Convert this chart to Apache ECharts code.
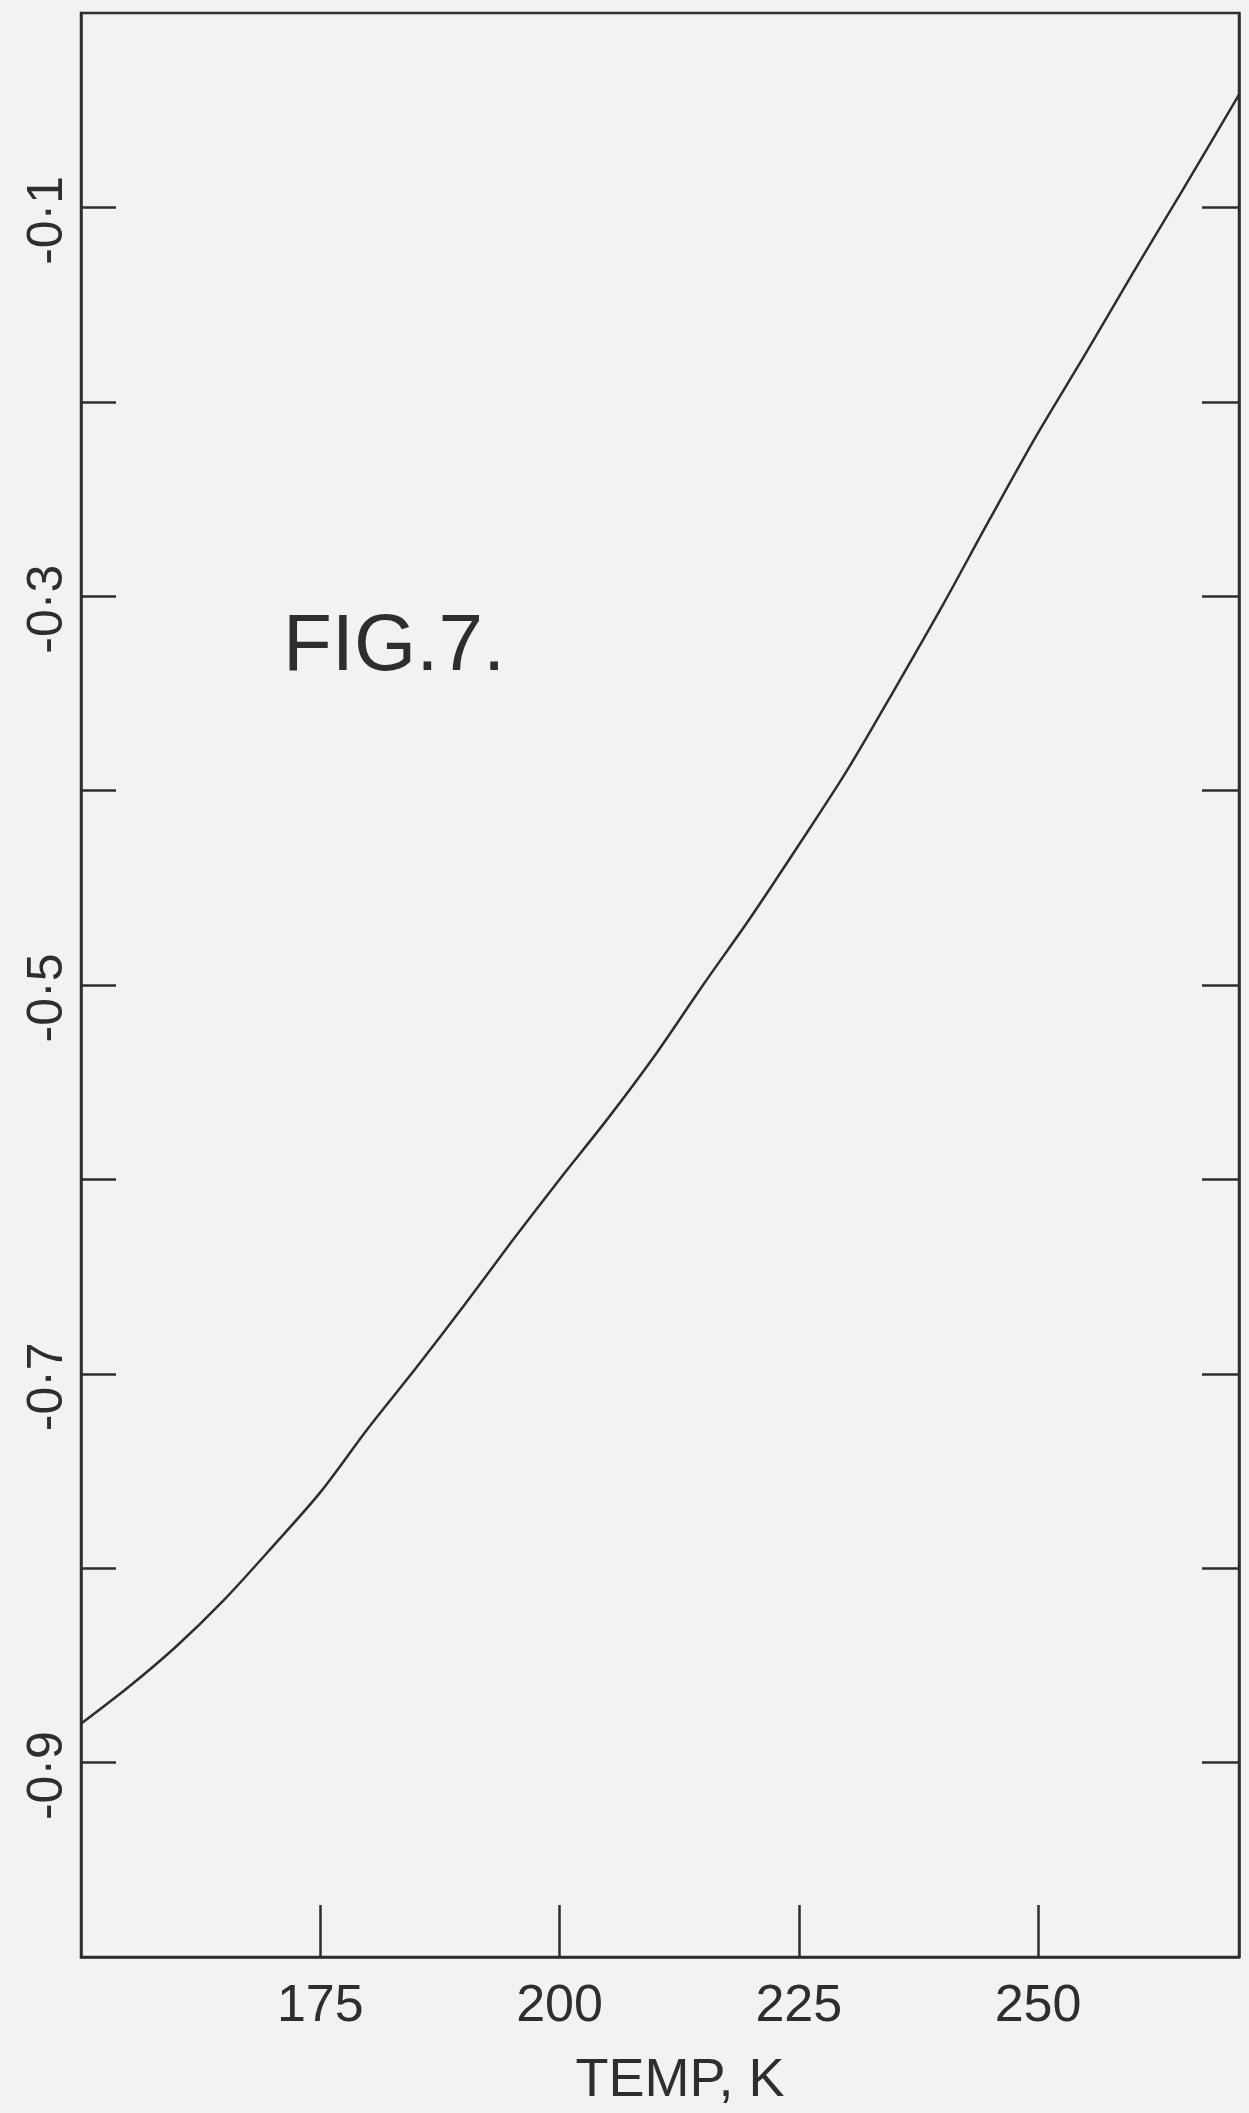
<!DOCTYPE html>
<html>
<head>
<meta charset="utf-8">
<script src="https://cdn.jsdelivr.net/npm/echarts@6/dist/echarts.min.js"></script>
<style>
html,body{margin:0;padding:0;background:#f2f2f2;}
#c{width:1249px;height:2113px;}
</style>
</head>
<body>
<div id="c"></div>
<script>
// Temperature (K) along the curve
const temps = [150, 155, 160, 165, 170, 175, 180, 185, 190, 195, 200, 205, 210, 215, 220, 225, 230, 235, 240, 245, 250, 255, 260, 265, 271];
// Curve values
const values = [-0.880, -0.861, -0.840, -0.816, -0.789, -0.761, -0.728, -0.697, -0.665, -0.632, -0.600, -0.569, -0.536, -0.500, -0.465, -0.428, -0.390, -0.348, -0.305, -0.260, -0.216, -0.175, -0.133, -0.092, -0.042];
// Axis ticks and labels
const xTicks = [175, 200, 225, 250];
const yTicks = [-0.9, -0.8, -0.7, -0.6, -0.5, -0.4, -0.3, -0.2, -0.1];
const yLabelValues = [-0.9, -0.7, -0.5, -0.3, -0.1];
const xName = 'TEMP, K';
const figLabel = 'FIG.7.';

const ink = '#2e2e2e';
const font = "'Liberation Sans', Arial, sans-serif";

const chart = echarts.init(document.getElementById('c'), null, {renderer: 'canvas'});
chart.setOption({
  backgroundColor: '#f2f2f2',
  animation: false,
  title: {
    text: figLabel, left: 278, top: 603,
    textStyle: {fontSize: 80, fontWeight: 'normal', fontFamily: font, color: ink}
  },
  grid: {
    left: 81, right: 10, top: 13, bottom: 147,
    show: true, borderColor: ink, borderWidth: 2.5, backgroundColor: 'transparent'
  },
  xAxis: {
    type: 'value', min: 150, max: 271,
    name: xName, nameLocation: 'middle', nameGap: 97,
    nameTextStyle: {fontSize: 54, fontFamily: font, color: ink, padding: [0, 0, 0, 40]},
    axisLine: {show: true, onZero: false, lineStyle: {color: ink, width: 2.5}},
    axisTick: {show: true, inside: true, length: 52, customValues: xTicks, lineStyle: {color: ink, width: 2.5}},
    axisLabel: {show: true, customValues: xTicks, margin: 24, fontSize: 52, fontFamily: font, color: ink},
    splitLine: {show: false}
  },
  yAxis: [{
    type: 'value', min: -1, max: 0, position: 'left',
    axisLine: {show: true, onZero: false, lineStyle: {color: ink, width: 2.5}},
    axisTick: {show: true, inside: true, length: 35, customValues: yTicks, lineStyle: {color: ink, width: 2.5}},
    axisLabel: {
      show: true, customValues: yLabelValues, rotate: 90, margin: 8,
      fontSize: 50, fontFamily: font, color: ink, padding: [0, 26, 0, 0],
      formatter: v => v.toFixed(1).replace('.', '\u00B7')
    },
    splitLine: {show: false}
  }, {
    type: 'value', min: -1, max: 0, position: 'right',
    axisLine: {show: true, onZero: false, lineStyle: {color: ink, width: 2.5}},
    axisTick: {show: true, inside: true, length: 37, customValues: yTicks, lineStyle: {color: ink, width: 2.5}},
    axisLabel: {show: false},
    splitLine: {show: false}
  }],
  series: [{
    type: 'line',
    yAxisIndex: 0,
    data: temps.map((t, i) => [t, values[i]]),
    showSymbol: false,
    smooth: 0.3,
    lineStyle: {color: ink, width: 2.5}
  }]
});
</script>
</body>
</html>
